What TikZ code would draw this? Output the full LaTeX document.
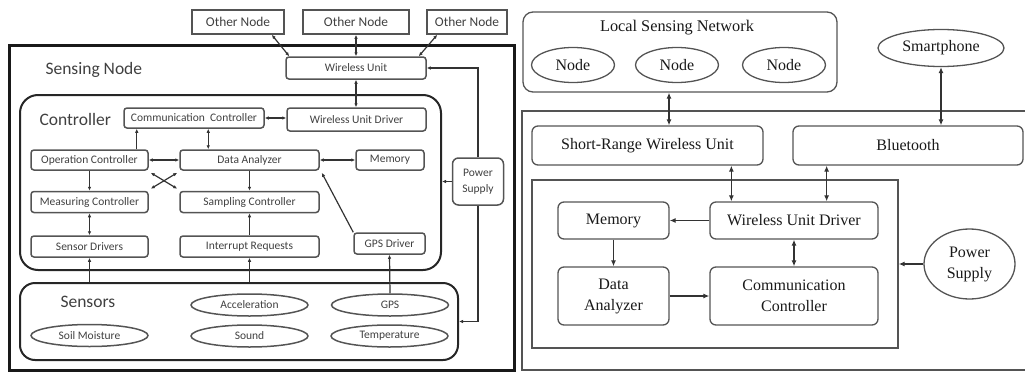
\documentclass[tikz,border=0pt]{standalone}
\usepackage{fontspec}
\setmainfont{Liberation Serif}
\newfontfamily\calibrifont{Carlito}
\usepackage{tikz}
\usetikzlibrary{positioning,arrows.meta,shapes.geometric}
\definecolor{edgegray}{rgb}{0.33, 0.33, 0.33}
\definecolor{inkgray}{rgb}{0.25, 0.25, 0.25}

\begin{document}
\begin{tikzpicture}[x=1pt, y=-1pt,
			unit/.style={draw=edgegray, line width=1.5pt, rounded corners=3pt, inner sep=0pt, minimum height=21pt, align=center, text=inkgray, font=\calibrifont\fontsize{11.5}{16}\selectfont},
			sensor/.style={ellipse, draw=edgegray, line width=1.5pt, inner sep=0pt, minimum width=117pt, minimum height=22pt, text=inkgray, font=\calibrifont\fontsize{11.5}{16}\selectfont},
			other/.style={draw=edgegray, line width=1.6pt, inner sep=0pt, minimum height=24pt, text=inkgray, font=\calibrifont\fontsize{13.4}{16}\selectfont},
			group/.style={draw=black!85, line width=2pt, inner sep=0pt},
			title/.style={anchor=west, text=inkgray, font=\calibrifont\fontsize{17.5}{20}\selectfont},
			block/.style={draw=edgegray, line width=1.3pt, rounded corners=6pt, inner sep=0pt, align=center, text=black!90, font=\fontsize{16}{21}\selectfont},
			blob/.style={ellipse, draw=edgegray, line width=1.3pt, inner sep=0pt, align=center, text=black!90, font=\fontsize{16}{21}\selectfont},
			link/.style={draw=black!80, line width=1.2pt, >={Latex[length=4pt,width=3.5pt]}},
			rlink/.style={draw=black!80, line width=1.3pt, >={Latex[length=6pt,width=5pt]}},
		]
		\useasboundingbox (0,0) rectangle (1025,372);

		\draw[line width=3pt, draw=black!90] (9,45) rectangle (514,370);
		\node[title] (sntitle) at (42,70) {Sensing Node};

		\node[other, minimum width=92pt]  (on1) at (238,22) {Other Node};
		\node[other, minimum width=106pt] (on2) at (356,22) {Other Node};
		\node[other, minimum width=80pt]  (on3) at (467,22) {Other Node};
		\node[unit, minimum width=140pt, minimum height=22pt] (wu) at (356,68) {Wireless Unit};

		\node[group, rounded corners=18pt, minimum width=421pt, minimum height=175pt] (ctrl) at (230.5,182.5) {};
		\node[title] (ctitle) at (36,119) {Controller};
		\node[group, rounded corners=15pt, minimum width=438pt, minimum height=77pt] (sens) at (239,321.5) {};
		\node[title] (stitle) at (57,302) {Sensors};

		\node[unit, minimum width=140pt, minimum height=20pt] (ccont) at (194,118)   {Communication\ \ Controller};
		\node[unit, minimum width=139pt, minimum height=23pt] (wud)   at (356.5,119.5) {Wireless Unit Driver};
		\node[unit, minimum width=117pt, minimum height=20pt] (opc)   at (89.5,160)  {Operation Controller};
		\node[unit, minimum width=139pt, minimum height=20pt] (da)    at (249.5,160) {Data Analyzer};
		\node[unit, minimum width=68pt, minimum height=20pt]  (mem)   at (390,160)   {Memory};
		\node[unit, minimum width=117pt] (mc)  [below=20pt of opc] {Measuring Controller};
		\node[unit, minimum width=139pt] (sc)  [below=20pt of da]  {Sampling Controller};
		\node[unit, minimum width=117pt] (sd)  [below=22pt of mc]  {Sensor Drivers};
		\node[unit, minimum width=139pt] (ir)  [below=22pt of sc]  {Interrupt Requests};
		\node[unit, minimum width=71pt]  (gpsd) at (389.5,243.5) {GPS Driver};
		\node[unit, minimum width=51pt, minimum height=47pt, rounded corners=6pt] (ps) at (478,181.5) {Power\\Supply};

		\node[sensor] (accel) at (249.5,305)   {Acceleration};
		\node[sensor] (gps)   at (390,305)     {GPS};
		\node[sensor] (soil)  at (89.5,335.5)  {Soil Moisture};
		\node[sensor] (sound) at (249.5,336)   {Sound};
		\node[sensor] (temp)  at (389.5,336)   {Temperature};

		\draw[link, <->] ([xshift=-13pt]on1.south east) -- ([xshift=4pt]wu.north west);
		\draw[link, <->] (on2.south) -- (wu.north);
		\draw[link, <->] ([xshift=11pt]on3.south west) -- ([xshift=-8pt]wu.north east);
		\draw[link, <->] (wu.south) -- (wu.south |- wud.north);
		\draw[link, ->] (ps.north) |- (wu.east);
		\draw[link, ->] (ps.west) -- (ps.west -| ctrl.east);
		\draw[link, ->] (ps.south) |- (sens.east);
		\draw[link, <->] (ccont.east) -- (ccont.east -| wud.west);
		\draw[link, ->] ([xshift=-12pt]opc.north east) -- ([xshift=-12pt]opc.north east |- ccont.south);
		\draw[link, <->] ([xshift=29pt]da.north west) -- ([xshift=29pt]da.north west |- ccont.south);
		\draw[link, <->] (opc.east) -- (da.west);
		\draw[link, <->] (da.east) -- (mem.west);
		\draw[link, ->] (opc.south) -- (mc.north);
		\draw[link, ->] (da.south) -- (sc.north);
		\draw[link, <->] ([shift={(2pt,-2pt)}]opc.south east) -- ([shift={(-2pt,2pt)}]sc.north west);
		\draw[link, <->] ([shift={(-2pt,-2pt)}]da.south west) -- ([shift={(2pt,2pt)}]mc.north east);
		\draw[link, <->] (mc.south) -- (sd.north);
		\draw[link, ->] (ir.north) -- (sc.south);
		\draw[link, ->] (gpsd.north west) -- ([shift={(2pt,-2pt)}]da.south east);
		\draw[link, ->] (sens.north -| sd.south) -- (sd.south);
		\draw[link, ->] (sens.north -| ir.south) -- (ir.south);
		\draw[link, ->] (gps.north) -- (gpsd.south);

		\draw[draw=edgegray, line width=1.3pt] (1025,111) -- (522,111) -- (522,370) -- (1025,370);

		\node[block, rounded corners=10pt, minimum width=314pt, minimum height=80pt] (lsn) at (680,52) {};
		\node[text=black!90, font=\fontsize{16.3}{21}\selectfont] (lsntitle) at (677,28) {Local Sensing Network};
		\node[blob, minimum width=83pt, minimum height=35pt] (n1) at (573,65) {Node};
		\node[blob, minimum width=83pt, minimum height=35pt] (n2) at (677,65) {Node};
		\node[blob, minimum width=83pt, minimum height=35pt] (n3) at (784,65) {Node};
		\node[blob, minimum width=126pt, minimum height=37pt] (phone) at (941,48) {Smartphone};

		\node[block, minimum width=231pt, minimum height=39pt] (srwu) at (647.5,145.5) {Short-Range Wireless Unit};
		\node[block, minimum width=230pt, minimum height=39pt] (bt)   at (908,145.5)   {Bluetooth};

		\node[draw=edgegray, line width=1.3pt, inner sep=0pt, minimum width=366pt, minimum height=168pt] (core) at (715,264) {};
		\node[block, minimum width=111pt, minimum height=37pt] (mem2) at (613.5,220.5) {Memory};
		\node[block, minimum width=168pt, minimum height=37pt] (wud2) at (794,220.5)   {Wireless Unit Driver};
		\node[block, minimum width=111pt, minimum height=58pt] (da2)  at (613.5,296)   {Data\\Analyzer};
		\node[block, minimum width=168pt, minimum height=58pt] (cc2)  at (794,296)     {Communication\\Controller};
		\node[blob, minimum width=91pt, minimum height=70pt]   (ps2)  at (969.5,264)   {Power\\Supply};

		\draw[rlink, <->] ([xshift=21.5pt]srwu.north) -- ([xshift=21.5pt]srwu.north |- lsn.south);
		\draw[rlink, <->] (phone.south) -- (phone.south |- bt.north);
		\draw[rlink, <->] ([xshift=22pt]wud2.north west) -- ([xshift=22pt]wud2.north west |- srwu.south);
		\draw[rlink, <->] ([xshift=-52pt]wud2.north east) -- ([xshift=-52pt]wud2.north east |- bt.south);
		\draw[rlink, ->] (wud2.west) -- (mem2.east);
		\draw[rlink, ->] (mem2.south) -- (da2.north);
		\draw[rlink, ->] (da2.east) -- (cc2.west);
		\draw[rlink, <->] (wud2.south) -- (cc2.north);
		\draw[rlink, ->] (ps2.west) -- (core.east);

		\end{tikzpicture}
\end{document}
